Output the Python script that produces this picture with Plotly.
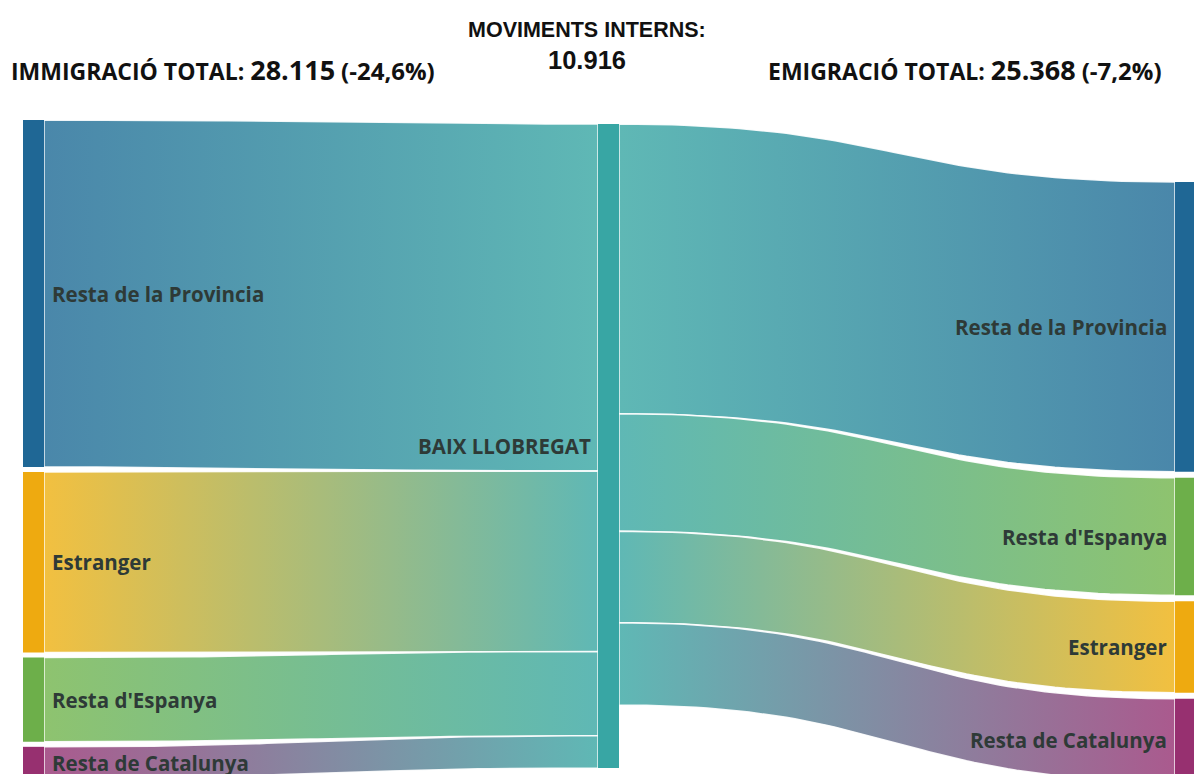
import numpy as np
import plotly.graph_objects as go

# ---------------- data ----------------
center_name = "BAIX LLOBREGAT"
in_labels = ["Resta de la Provincia", "Estranger", "Resta d'Espanya", "Resta de Catalunya"]
in_values = [15150, 7880, 3680, 1405]          # immigració (sum 28.115)
out_labels = ["Resta de la Provincia", "Resta d'Espanya", "Estranger", "Resta de Catalunya"]
out_values = [12650, 5130, 3990, 3598]          # emigració (sum 25.368)
internal_moves = 10916
in_change = "(-24,6%)"
out_change = "(-7,2%)"

# colours per origin/destination
node_colors = {
    "Resta de la Provincia": "#1f6795",
    "Estranger": "#eeaa10",
    "Resta d'Espanya": "#6daf4a",
    "Resta de Catalunya": "#973070",
}
link_colors = {
    "Resta de la Provincia": "#4a87aa",
    "Estranger": "#f2c040",
    "Resta d'Espanya": "#8ec36f",
    "Resta de Catalunya": "#aa5a8e",
}
center_node_color = "#38a6a4"
center_link_color = "#5fb8b5"

# ---------------- layout constants ----------------
W, H = 1194, 774
COL_HEIGHT = 644
NODE_W = 21
X_LEFT, X_CENTER, X_RIGHT = 23, 598, 1175
TOP_LEFT, TOP_CENTER, TOP_RIGHT = 120, 124, 182
PAD_LEFT, PAD_RIGHT = 5, 6

total_in = sum(in_values)
total_out = sum(out_values)
ky = COL_HEIGHT / max(total_in, total_out)

LABEL_FONT = dict(family="'Open Sans', sans-serif", size=20.5, color="#2e3a37")

fig = go.Figure()


def bezier_band(x0, y0a, y0b, x1, y1a, y1b, n=60):
    t = np.linspace(0, 1, n)
    xm = (x0 + x1) / 2

    def cub(p0, p1, p2, p3):
        return ((1 - t) ** 3) * p0 + 3 * ((1 - t) ** 2) * t * p1 + 3 * (1 - t) * t ** 2 * p2 + t ** 3 * p3

    xt = cub(x0, xm, xm, x1)
    yt = cub(y0a, y0a, y1a, y1a)
    yb = cub(y0b, y0b, y1b, y1b)
    xs = np.concatenate([xt, xt[::-1], [xt[0]]])
    ys = np.concatenate([yt, yb[::-1], [yt[0]]])
    return xs, ys


def fmt(n):
    return f"{n:,}".replace(",", ".")


def add_link(x0, y0a, y0b, x1, y1a, y1b, c0, c1, name, val):
    xs, ys = bezier_band(x0, y0a, y0b, x1, y1a, y1b)
    fig.add_trace(go.Scatter(
        x=xs, y=ys, mode="lines", fill="toself",
        line=dict(color="rgba(255,255,255,0.9)", width=1.5),
        fillgradient=dict(type="horizontal", colorscale=[[0, c0], [1, c1]]),
        hoverinfo="text", text=f"{name}: {fmt(val)}",
        showlegend=False,
    ))


def add_node(x, y0, y1, color):
    fig.add_trace(go.Scatter(
        x=[x, x + NODE_W, x + NODE_W, x, x], y=[y0, y0, y1, y1, y0],
        mode="lines", fill="toself", fillcolor=color,
        line=dict(width=0, color=color), hoverinfo="skip", showlegend=False,
    ))


annotations = []

# left nodes and inbound links
y = TOP_LEFT
yc = TOP_CENTER
for lab, v in zip(in_labels, in_values):
    h = v * ky
    add_link(X_LEFT + NODE_W, y, y + h, X_CENTER, yc, yc + h,
             link_colors[lab], center_link_color, lab + " → " + center_name, v)
    add_node(X_LEFT, y, y + h, node_colors[lab])
    annotations.append(dict(x=X_LEFT + NODE_W + 6, y=y + h / 2, text=f"<b>{lab}</b>",
                            xanchor="left", yanchor="middle", showarrow=False, font=LABEL_FONT))
    y += h + PAD_LEFT
    yc += h

# right nodes and outbound links
y = TOP_RIGHT
yc = TOP_CENTER
for lab, v in zip(out_labels, out_values):
    h = v * ky
    add_link(X_CENTER + NODE_W, yc, yc + h, X_RIGHT, y, y + h,
             center_link_color, link_colors[lab], center_name + " → " + lab, v)
    add_node(X_RIGHT, y, y + h, node_colors[lab])
    annotations.append(dict(x=X_RIGHT - 6, y=y + h / 2, text=f"<b>{lab}</b>",
                            xanchor="right", yanchor="middle", showarrow=False, font=LABEL_FONT))
    y += h + PAD_RIGHT
    yc += h

# center node
ch = max(total_in, total_out) * ky
add_node(X_CENTER, TOP_CENTER, TOP_CENTER + ch, center_node_color)
annotations.append(dict(x=X_CENTER - 5, y=TOP_CENTER + ch / 2, text=f"<b>{center_name}</b>",
                        xanchor="right", yanchor="middle", showarrow=False, font=LABEL_FONT))

# headers
HEAD_FONT = dict(family="'Open Sans', sans-serif", size=23, color="#111")
annotations.append(dict(
    xref="paper", yref="paper", x=9 / W, y=1 - 70 / H, xanchor="left", yanchor="middle",
    showarrow=False, font=HEAD_FONT,
    text=(f"<b>IMMIGRACIÓ TOTAL: <span style='font-size:27px'>{fmt(total_in)}</span> "
          f"<span style='font-size:24px'>{in_change}</span></b>")))
annotations.append(dict(
    xref="paper", yref="paper", x=1 - 30 / W, y=1 - 70 / H, xanchor="right", yanchor="middle",
    showarrow=False, font=HEAD_FONT,
    text=(f"<b>EMIGRACIÓ TOTAL: <span style='font-size:27px'>{fmt(total_out)}</span> "
          f"<span style='font-size:24px'>{out_change}</span></b>")))
annotations.append(dict(
    xref="paper", yref="paper", x=587 / W, y=1 - 30 / H, xanchor="center", yanchor="middle",
    showarrow=False,
    font=dict(family="'Liberation Sans', Arial, sans-serif", size=21.5, color="#111"),
    text="<b>MOVIMENTS INTERNS:</b>"))
annotations.append(dict(
    xref="paper", yref="paper", x=587 / W, y=1 - 60 / H, xanchor="center", yanchor="middle",
    showarrow=False,
    font=dict(family="'Liberation Sans', Arial, sans-serif", size=25.5, color="#111"),
    text=f"<b>{fmt(internal_moves)}</b>"))

fig.update_layout(
    width=W, height=H,
    margin=dict(l=0, r=0, t=0, b=0),
    paper_bgcolor="white", plot_bgcolor="white",
    xaxis=dict(range=[0, W], visible=False, fixedrange=True),
    yaxis=dict(range=[H, 0], visible=False, fixedrange=True),
    annotations=annotations,
    showlegend=False,
)

fig.write_html("out.html", config={"displayModeBar": False},
               post_script="document.body.style.margin='0';document.body.style.overflow='hidden';")
